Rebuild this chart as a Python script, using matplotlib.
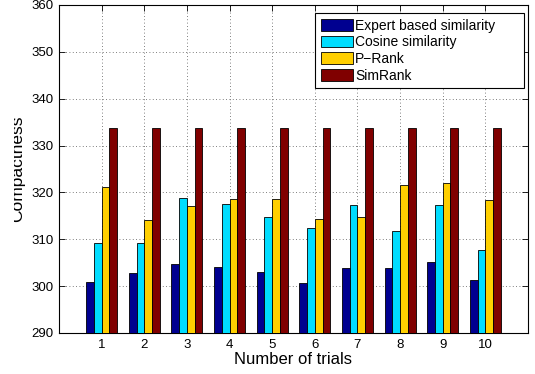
import numpy as np
import matplotlib
matplotlib.use("Agg")
import matplotlib.pyplot as plt
from matplotlib.transforms import Bbox, TransformedBbox

plt.rcParams['font.family'] = ['Liberation Sans', 'DejaVu Sans']

trials = [1, 2, 3, 4, 5, 6, 7, 8, 9, 10]
expert = [300.8, 302.9, 304.7, 304.0, 303.1, 300.7, 303.9, 303.9, 305.1, 301.4]
cosine = [309.2, 309.2, 318.8, 317.6, 314.8, 312.5, 317.3, 311.8, 317.4, 307.8]
prank = [321.1, 314.2, 317.1, 318.5, 318.5, 314.4, 314.7, 321.6, 322.1, 318.4]
simrank = [333.7, 333.7, 333.7, 333.7, 333.7, 333.7, 333.7, 333.7, 333.7, 333.7]

labels = ['Expert based similarity', 'Cosine similarity', 'P\u2212Rank', 'SimRank']
colors = ['#000090', '#00DDFF', '#FFCF00', '#800000']

fig = plt.figure(figsize=(5.35, 3.74), dpi=100)
ax = fig.add_axes([59 / 535, 41 / 374, 469 / 535, 328 / 374])

# grouped bars, MATLAB style: group width 4/5.5, bars touching
series = [expert, cosine, prank, simrank]
group_w = 4 / 5.5
w = group_w / 4
x = np.array(trials)
for i, (vals, lab, col) in enumerate(zip(series, labels, colors)):
    ax.bar(x + (i - 1.5) * w, np.array(vals) - 290, width=w, bottom=290,
           color=col, edgecolor='black', linewidth=0.6, label=lab, zorder=3)

ax.set_xlim(0, 11)
ax.set_ylim(290, 360)
ax.set_xticks(trials)
ax.set_yticks(np.arange(290, 361, 10))
ax.tick_params(direction='in', top=True, right=True, length=4, width=0.6,
               labelsize=9.5, pad=4)
ax.grid(True, linestyle=(0, (1, 3)), color='#555555', linewidth=0.6, zorder=0)
ax.set_axisbelow(True)
for s in ax.spines.values():
    s.set_linewidth(0.8)

ax.set_xlabel('Number of trials', fontsize=12, labelpad=1)
ax.set_ylabel('Compactness', fontsize=12.5, labelpad=4.5)

# left part of the y label is cut off
lbl = ax.yaxis.label
lbl.set_clip_box(TransformedBbox(Bbox([[14 / 535, 0], [1, 1]]), fig.transFigure))
lbl.set_clip_on(True)

# fixed-width legend box with free space right of the labels
leg = ax.legend(loc='upper left', mode='expand',
                bbox_to_anchor=(315 / 535, 0, 209 / 535, 361 / 374),
                bbox_transform=fig.transFigure, borderaxespad=0, fontsize=10,
                fancybox=False, edgecolor='black', framealpha=1,
                handlelength=2.3, handleheight=0.93, handletextpad=0.2,
                labelspacing=0.2, borderpad=0.4)
leg.get_frame().set_linewidth(0.8)

fig.savefig('out.png', dpi=100)
